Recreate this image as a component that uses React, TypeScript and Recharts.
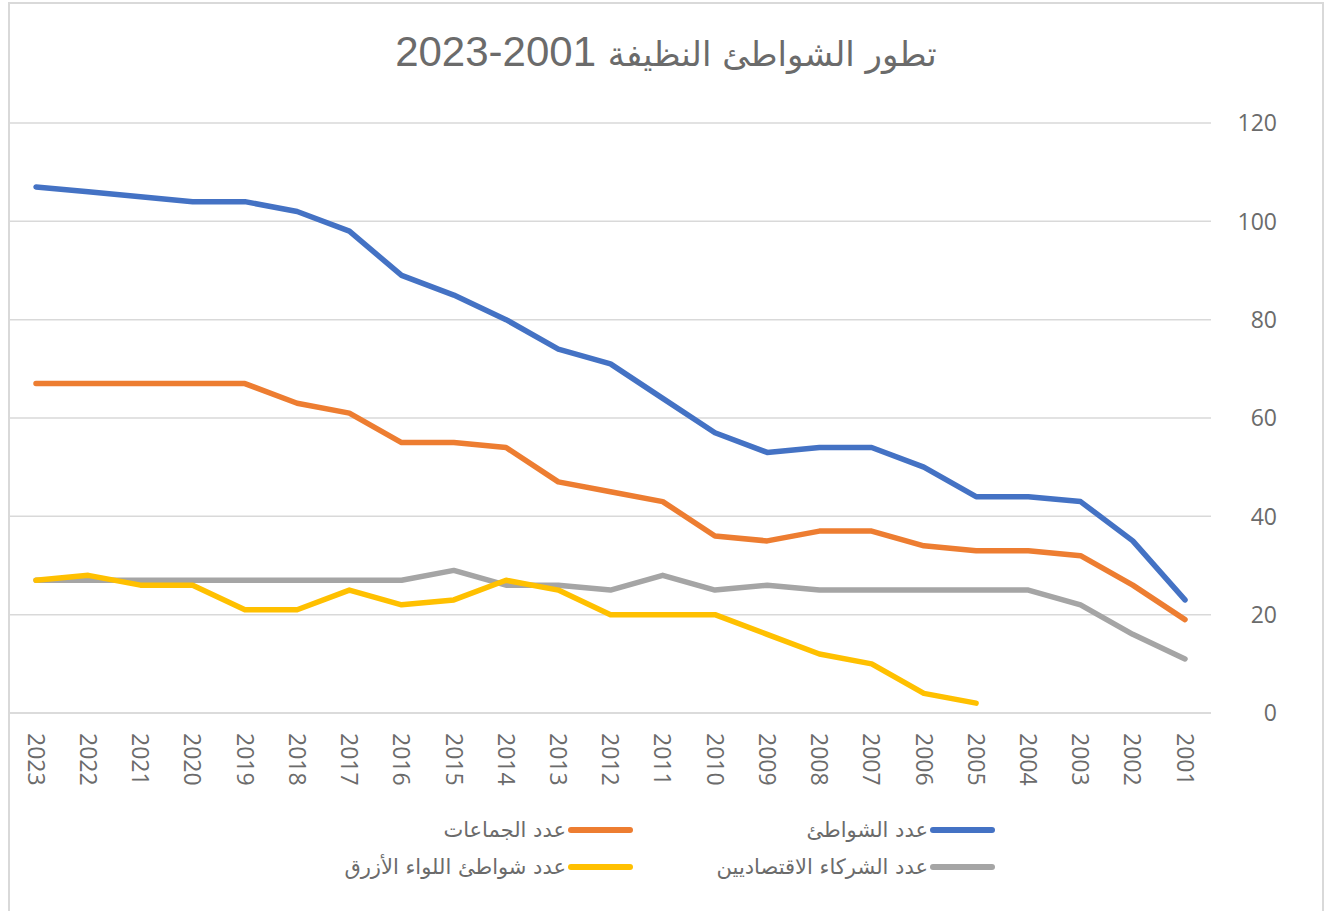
import React from 'react';
import { LineChart, Line, XAxis, YAxis, CartesianGrid } from 'recharts';

const years = [
  2001, 2002, 2003, 2004, 2005, 2006, 2007, 2008, 2009, 2010, 2011, 2012,
  2013, 2014, 2015, 2016, 2017, 2018, 2019, 2020, 2021, 2022, 2023,
];

// values listed from 2001 to 2023
const beaches = [23, 35, 43, 44, 44, 50, 54, 54, 53, 57, 64, 71, 74, 80, 85, 89, 98, 102, 104, 104, 105, 106, 107];
const communes = [19, 26, 32, 33, 33, 34, 37, 37, 35, 36, 43, 45, 47, 54, 55, 55, 61, 63, 67, 67, 67, 67, 67];
const partners = [11, 16, 22, 25, 25, 25, 25, 25, 26, 25, 28, 25, 26, 26, 29, 27, 27, 27, 27, 27, 27, 27, 27];
const blueFlag = [null, null, null, null, 2, 4, 10, 12, 16, 20, 20, 20, 25, 27, 23, 22, 25, 21, 21, 26, 26, 28, 27];

const yTicks = [0, 20, 40, 60, 80, 100, 120];

const seriesNames = ['عدد الشواطئ', 'عدد الجماعات', 'عدد الشركاء الاقتصاديين', 'عدد شواطئ اللواء الأزرق'];
const seriesKeys = ['beaches', 'communes', 'partners', 'blueFlag'];
const seriesColors = ['#4472C4', '#ED7D31', '#A5A5A5', '#FFC000'];

const titleText = 'تطور الشواطئ النظيفة';
const titleYears = '2023-2001';

const data = years.map((year, i) => ({
  year,
  beaches: beaches[i],
  communes: communes[i],
  partners: partners[i],
  blueFlag: blueFlag[i],
}));

const textColor = '#6b6b6b';
const gridColor = '#d9d9d9';
const tickFont = '"Open Sans", "DejaVu Sans", sans-serif';
const arabicFont = '"DejaVu Sans", "Liberation Sans", sans-serif';

const XTick = (props: any) => {
  const { x, y, payload } = props;
  return (
    <g transform={`translate(${x},${y + 20})`}>
      <text
        transform="rotate(90)"
        textAnchor="start"
        dy="0.36em"
        fill={textColor}
        style={{ fontSize: 23, fontFamily: tickFont }}
      >
        {payload.value}
      </text>
    </g>
  );
};

const YTick = (props: any) => {
  const { x, y, payload } = props;
  return (
    <text
      x={x + 66}
      y={y}
      dy="0.36em"
      textAnchor="end"
      fill={textColor}
      style={{ fontSize: 23, fontFamily: tickFont }}
    >
      {payload.value}
    </text>
  );
};

const W = 1312;
const H = 920;

export default function App() {
  return (
    <div
      style={{
        position: 'absolute',
        left: 8,
        top: 2,
        width: W,
        height: H,
        border: `2px solid ${gridColor}`,
        background: '#fff',
      }}
    >
      <div
        dir="rtl"
        style={{
          position: 'absolute',
          top: 24,
          left: 0,
          width: W,
          textAlign: 'center',
          fontFamily: '"Liberation Sans", Arial, "DejaVu Sans", sans-serif',
          fontSize: 42,
          lineHeight: '48px',
          color: textColor,
        }}
      >
        <span style={{ fontFamily: arabicFont, fontSize: 34 }}>{titleText}</span>{' '}
        <span dir="ltr" style={{ unicodeBidi: 'isolate' }}>{titleYears}</span>
      </div>

      <LineChart
        width={W}
        height={H}
        data={data}
        margin={{ top: 119, right: 0, left: 0, bottom: 0 }}
      >
        <CartesianGrid vertical={false} stroke={gridColor} strokeWidth={1.5} />
        <XAxis
          dataKey="year"
          reversed
          height={H - 709}
          padding={{ left: 26, right: 26 }}
          axisLine={{ stroke: gridColor, strokeWidth: 1.5 }}
          tickLine={false}
          tickSize={0}
          tickMargin={0}
          interval={0}
          tick={<XTick />}
        />
        <YAxis
          orientation="right"
          width={111}
          domain={[0, 120]}
          ticks={yTicks}
          axisLine={false}
          tickLine={false}
          tickSize={0}
          tickMargin={0}
          tick={<YTick />}
        />
        {seriesKeys.map((key, i) => (
          <Line
            key={key}
            type="linear"
            dataKey={key}
            name={seriesNames[i]}
            stroke={seriesColors[i]}
            strokeWidth={5.5}
            strokeLinecap="round"
            strokeLinejoin="round"
            dot={false}
            activeDot={false}
            isAnimationActive={false}
          />
        ))}
      </LineChart>

      {seriesNames.map((name, i) => {
        const col = i % 2;
        const row = Math.floor(i / 2);
        return (
          <div
            key={name}
            dir="rtl"
            style={{
              position: 'absolute',
              right: col === 0 ? W - 985 : W - 623,
              top: 826 + row * 37 - 16,
              height: 32,
              display: 'flex',
              alignItems: 'center',
              whiteSpace: 'nowrap',
              fontFamily: arabicFont,
              fontSize: 21,
              color: textColor,
            }}
          >
            <span
              style={{
                display: 'inline-block',
                width: 65,
                height: 6,
                borderRadius: 3,
                background: seriesColors[i],
              }}
            />
            <span style={{ marginRight: 2 }}>{name}</span>
          </div>
        );
      })}
    </div>
  );
}
